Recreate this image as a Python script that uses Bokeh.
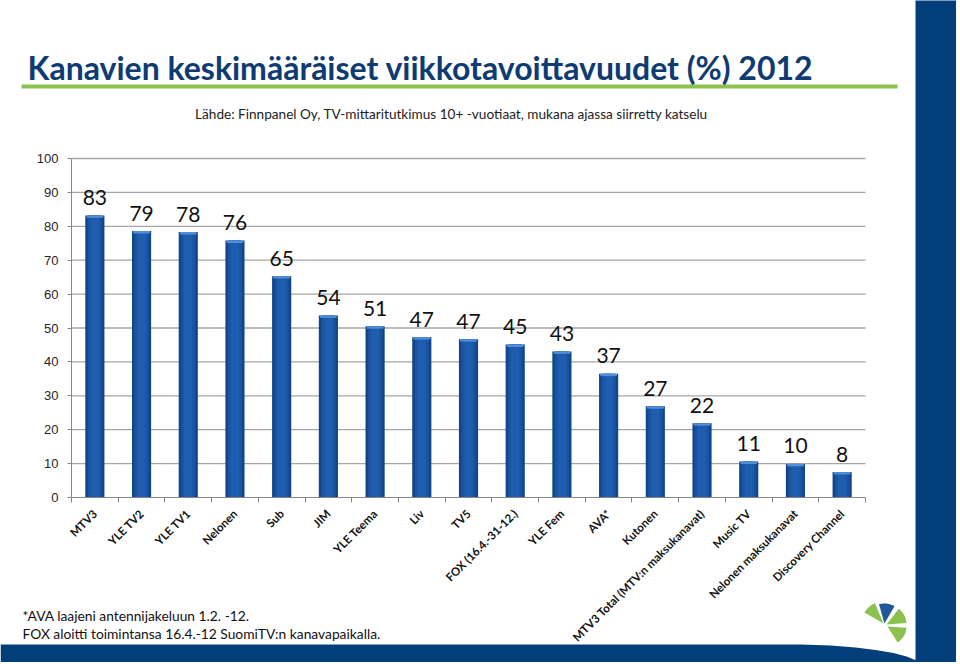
import numpy as np
from bokeh.plotting import figure
from bokeh.models import Range1d, FixedTicker, Label, BoxAnnotation, PolyAnnotation
from bokeh.core.properties import value
from bokeh.embed import file_html
from bokeh.resources import INLINE

# ---- data ----
channels = ["MTV3", "YLE TV2", "YLE TV1", "Nelonen", "Sub", "JIM", "YLE Teema", "Liv", "TV5",
            "FOX (16.4.-31-12.)", "YLE Fem", "AVA*", "Kutonen",
            "MTV3 Total (MTV:n maksukanavat)", "Music TV", "Nelonen maksukanavat",
            "Discovery Channel"]
reach = [83.2, 78.6, 78.3, 75.8, 65.3, 53.7, 50.5, 47.3, 46.7, 45.1, 43.1, 36.5, 26.9, 21.9,
         10.6, 9.9, 7.5]
reach_labels = ["83", "79", "78", "76", "65", "54", "51", "47", "47", "45", "43", "37", "27",
                "22", "11", "10", "8"]
y_ticks = [0, 10, 20, 30, 40, 50, 60, 70, 80, 90, 100]

title_text = "Kanavien keskimääräiset viikkotavoittavuudet (%) 2012"
subtitle_text = "Lähde: Finnpanel Oy, TV-mittaritutkimus 10+ -vuotiaat, mukana ajassa siirretty katselu"
note1 = "*AVA laajeni antennijakeluun 1.2. -12."
note2 = "FOX aloitti toimintansa 16.4.-12 SuomiTV:n kanavapaikalla."

# ---- layout constants (pixels on the slide) ----
W, H = 956, 662
PL, PR, PT, PB = 71, 865, 158, 497      # plot area edges
n = len(channels)
pos = list(range(1, n + 1))
bounds = [i + 0.5 for i in range(n + 1)]
X0, X1 = 0.5, n + 0.5
Y0, Y1 = 0, 100
kx = (PR - PL) / (X1 - X0)
ky = (PB - PT) / (Y1 - Y0)

FONT = "Lato"
DARK = "#023E79"
GREEN = "#8CC152"

p = figure(width=W, height=H,
           x_range=Range1d(X0 - PL / kx, X1 + (W - PR) / kx),
           y_range=Range1d(Y0 - (H - PB) / ky, Y1 + PT / ky),
           output_backend="svg", toolbar_location=None,
           min_border=0, min_border_left=0, min_border_right=0,
           min_border_top=0, min_border_bottom=0)
p.title.visible = False
p.outline_line_color = None
p.background_fill_color = "white"
p.border_fill_color = "white"
p.xgrid.visible = False
p.ygrid.visible = False

# horizontal gridlines over the plot area
p.segment(x0=X0, x1=X1, y0=y_ticks[1:], y1=y_ticks[1:], line_color="#A6A6A6", line_width=1.3)

yax = p.yaxis[0]
yax.fixed_location = X0
yax.bounds = (Y0, Y1)
yax.ticker = FixedTicker(ticks=y_ticks)
yax.axis_line_color = "#868686"
yax.major_tick_line_color = "#868686"
yax.major_tick_out = 4
yax.major_tick_in = 0
yax.minor_tick_line_color = None
yax.major_label_standoff = 9
yax.major_label_text_font = "Liberation Sans"
yax.major_label_text_font_size = "13px"
yax.major_label_text_color = "#262626"

xax = p.xaxis[0]
xax.fixed_location = Y0
xax.bounds = (X0, X1)
xax.ticker = FixedTicker(ticks=pos, minor_ticks=bounds)
xax.major_label_overrides = {i: c for i, c in zip(pos, channels)}
xax.axis_line_color = "#868686"
xax.major_tick_out = 0
xax.major_tick_in = 0
xax.minor_tick_out = 5
xax.minor_tick_in = 0
xax.minor_tick_line_color = "#868686"
xax.major_label_orientation = np.pi / 4
xax.major_label_standoff = 9
xax.major_label_text_font = FONT
xax.major_label_text_font_style = "bold"
xax.major_label_text_font_size = "11.5px"
xax.major_label_text_color = "#111111"

# ---- bars (layered for a soft cylinder shading) ----
p.vbar(x=pos, top=reach, bottom=0, width=0.41, fill_color="#12458C", line_color=None)
p.vbar(x=pos, top=reach, bottom=0, width=0.30, fill_color="#1A54A2", line_color=None)
p.vbar(x=pos, top=reach, bottom=0, width=0.18, fill_color="#1F5DAE", line_color=None)
p.vbar(x=pos, top=reach, bottom=[r - 0.7 for r in reach], width=0.36,
       fill_color="#5A9AE0", line_color=None, fill_alpha=0.85)

p.text(x=pos, y=[r + 5.3 for r in reach], text=reach_labels, text_align="center",
       text_baseline="middle", text_font=value(FONT), text_font_size="21px",
       text_color="#111111")

# ---- slide texts and decorations (screen px, origin bottom-left of canvas) ----
def sy(ry):
    return H - ry

def label(x, y, text, size, bold=False, color="#111111", align="left"):
    p.add_layout(Label(x=x, y=sy(y), x_units="screen", y_units="screen", text=text,
                       text_font=FONT, text_font_style="bold" if bold else "normal",
                       text_font_size=size, text_color=color, text_align=align,
                       text_baseline="middle"))

def box(l, r, t, b, color):
    p.add_layout(BoxAnnotation(left=l, right=r, top=sy(t), bottom=sy(b),
                               left_units="screen", right_units="screen",
                               top_units="screen", bottom_units="screen",
                               fill_color=color, fill_alpha=1, line_color=None))

def poly(xs, ys, color):
    p.add_layout(PolyAnnotation(xs=list(xs), ys=[sy(v) for v in ys], xs_units="screen",
                                ys_units="screen", fill_color=color, fill_alpha=1,
                                line_color=None))

box(21, 897, 84, 88, GREEN)
label(27, 67, title_text, "32px", bold=True, color="#0E3B73")
label(451, 113, subtitle_text, "13.6px", color="#222222", align="center")
label(22, 615, note1, "13.8px")
label(22, 633, note2, "13.8px")

# right vertical band
box(915, W + 10, -10, H + 10, DARK)
# bottom band with curved end
poly([0, 800, 830, 855, 875, 893, 906, 916, 916, 0],
     [644, 644, 645, 647, 649.5, 652.5, 656, 660, H + 10, H + 10], DARK)

# logo wedges
def wedge(cx, cy, a0, a1, r, color):
    t = np.radians(np.linspace(a0, a1, 14))
    xs = [cx] + [float(cx + r * np.cos(a)) for a in t]
    ys = [cy] + [float(cy - r * np.sin(a)) for a in t]
    poly(xs, ys, color)

wedge(883, 623, 113, 150, 22, "#8DC14F")
wedge(884, 623, 60, 106, 20, "#1F5A96")
wedge(886, 624, 4, 52, 20, "#8DC14F")
wedge(887, 626, -58, -4, 19, "#8DC14F")

open("out.html", "w").write(file_html(p, INLINE))
